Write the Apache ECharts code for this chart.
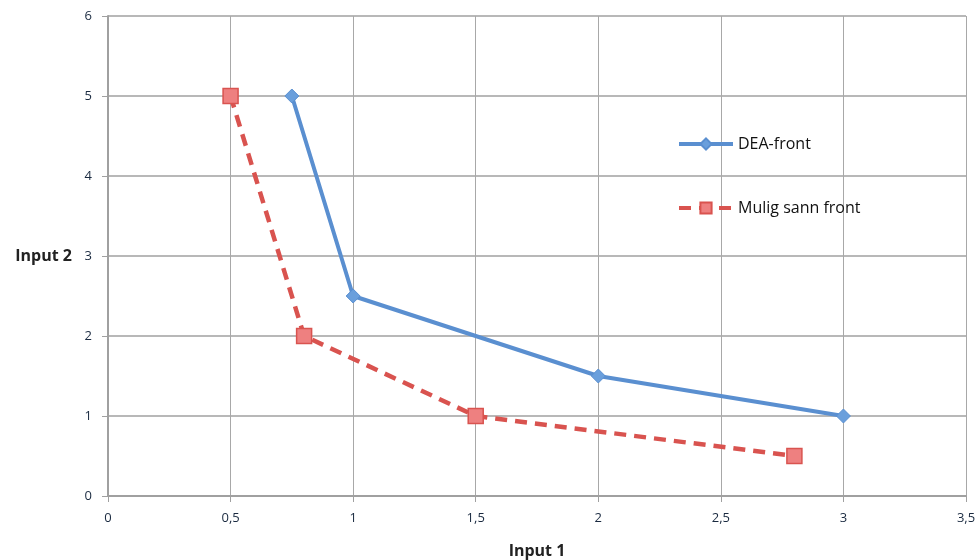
<!DOCTYPE html>
<html><head><meta charset="utf-8">
<script src="https://cdn.jsdelivr.net/npm/echarts@6/dist/echarts.min.js"></script>
<style>html,body{margin:0;padding:0;background:#fff}#c{width:978px;height:560px}</style>
</head><body><div id="c"></div>
<script>
const deaX = [0.75, 1, 2, 3];
const deaY = [5, 2.5, 1.5, 1];
const muligX = [0.5, 0.8, 1.5, 2.8];
const muligY = [5, 2, 1, 0.5];
const seriesNames = ['DEA-front', 'Mulig sann front'];
const xName = 'Input 1';
const yName = 'Input 2';

const fmt = v => String(v).replace('.', ',');
const chart = echarts.init(document.getElementById('c'));
chart.setOption({
  animation: false,
  grid: {left: 108, right: 12, top: 16, bottom: 64, containLabel: false, outerBoundsMode: 'none'},
  legend: {
    orient: 'vertical', left: 672, top: 131, itemGap: 48,
    itemWidth: 54, itemHeight: 14,
    lineStyle: {width: 4},
    textStyle: {fontFamily: 'Open Sans, Liberation Sans', fontSize: 16, color: '#111'},
    data: seriesNames
  },
  xAxis: {
    type: 'value', min: 0, max: 3.5, interval: 0.5,
    name: xName, nameLocation: 'middle', nameGap: 47,
    nameTextStyle: {fontWeight: 'bold', fontSize: 16, color: '#222', fontFamily: 'Open Sans'},
    axisLine: {show: true, lineStyle: {color: '#a0a0a0', width: 2}},
    axisTick: {show: true, length: 6, lineStyle: {color: '#a0a0a0'}},
    axisLabel: {formatter: fmt, margin: 16, fontSize: 13, fontWeight: 500, color: '#1a2a40', fontFamily: 'Open Sans'},
    splitLine: {show: true, lineStyle: {color: '#a8a8a8', width: 1}}
  },
  yAxis: {
    type: 'value', min: 0, max: 6, interval: 1,
    name: yName, nameLocation: 'middle', nameGap: 36, nameRotate: 0,
    nameTextStyle: {fontWeight: 'bold', fontSize: 16, color: '#222', fontFamily: 'Open Sans'},
    axisLine: {show: true, lineStyle: {color: '#a0a0a0', width: 2}},
    axisTick: {show: true, length: 6, lineStyle: {color: '#a0a0a0'}},
    axisLabel: {formatter: fmt, margin: 16, fontSize: 13, fontWeight: 500, color: '#1a2a40', fontFamily: 'Open Sans'},
    splitLine: {show: true, lineStyle: {color: '#b8b8b8', width: 2}}
  },
  series: [
    {
      name: seriesNames[0], type: 'line',
      data: deaX.map((x, i) => [x, deaY[i]]),
      symbol: 'diamond', symbolSize: 14,
      lineStyle: {color: '#5a8fd0', width: 4},
      itemStyle: {color: '#6a9fdc', borderColor: '#5a8fd0', borderWidth: 1}
    },
    {
      name: seriesNames[1], type: 'line',
      data: muligX.map((x, i) => [x, muligY[i]]),
      symbol: 'rect', symbolSize: 15,
      lineStyle: {color: '#d9534f', width: 4.5, type: [12, 8]},
      itemStyle: {color: '#ee8080', borderColor: '#d9534f', borderWidth: 1.5}
    }
  ]
});
</script></body></html>
